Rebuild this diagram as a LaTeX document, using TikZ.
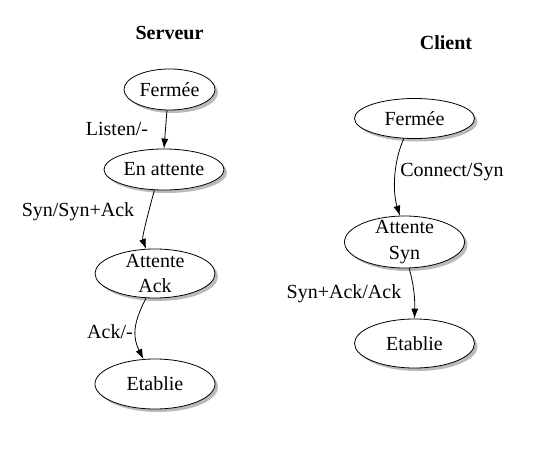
\documentclass[tikz,border=0pt]{standalone}
\usepackage{fontspec}
\setmainfont{Liberation Serif}
\usetikzlibrary{shapes.geometric}
\usetikzlibrary{shadows}
\usetikzlibrary{arrows.meta}

\begin{document}
\begin{tikzpicture}[x=1pt,y=-1pt,
	every node/.style={font=\fontsize{20}{25.5}\selectfont},
	state/.style={ellipse, draw, fill=white, line width=0.8pt, inner sep=0pt,
		minimum width=120pt, minimum height=41pt, align=center,
		drop shadow={shadow xshift=3pt, shadow yshift=-3pt, fill=black!45, opacity=0.6}},
	trans/.style={-{Latex[length=10pt,width=7pt]}, line width=0.8pt},
	lbl/.style={inner sep=0pt, anchor=base}]

	\useasboundingbox (0,0) rectangle (546,452);

	%server states
	\node[lbl, font=\fontsize{20}{25.5}\selectfont\bfseries] (tServeur) at (169.5,40) {Serveur};
	\node[state, minimum width=91pt] (sFerme) at (169.5,89.5) {Fermée};
	\node[state] (sAttente) at (164,169.5) {En attente};
	\node[state, minimum height=49pt, inner ysep=-4pt] (sAck) at (155,273.5) {Attente\\Ack};
	\node[state, minimum height=50pt] (sEtablie) at (155,384) {Etablie};

	%server transitions
	\draw[trans] (sFerme.-97) -- (sAttente.north);
	\node[lbl] (lListen) at (117,135) {Listen/-};
	\draw[trans] (sAttente.-115) .. controls (145,225) and (142,238) .. (sAck.110);
	\node[lbl] (lSyn) at (78,216) {Syn/Syn+Ack};
	\draw[trans] (sAck.-110) .. controls (132,325) and (133,338) .. (sEtablie.115);
	\node[lbl] (lAck) at (110,338) {Ack/-};

	%client states
	\node[lbl, font=\fontsize{20}{25.5}\selectfont\bfseries] (tClient) at (446,49) {Client};
	\node[state, minimum height=40pt] (cFerme) at (414.5,118.5) {Fermée};
	\node[state, minimum height=52pt, inner ysep=-4pt] (cAttente) at (404.5,242) {Attente\\Syn};
	\node[state, minimum height=49pt] (cEtablie) at (414.5,343.5) {Etablie};

	%client transitions
	\draw[trans] (cFerme.-118) .. controls (394,160) and (392,190) .. (cAttente.100);
	\node[lbl] (lConnect) at (452,176.5) {Connect/Syn};
	\draw[trans] (cAttente.-80) .. controls (414,285) and (415,300) .. (cEtablie.north);
	\node[lbl] (lSynAck) at (344,298) {Syn+Ack/Ack};

\end{tikzpicture}
\end{document}
